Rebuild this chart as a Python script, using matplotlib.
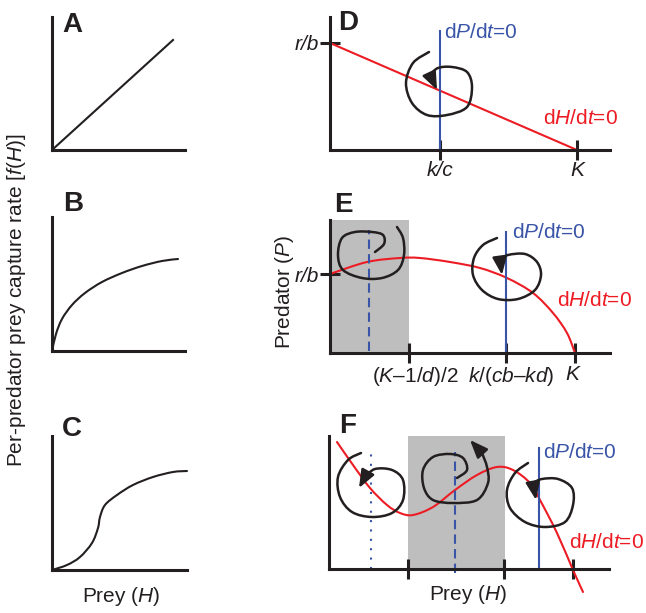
import matplotlib.pyplot as plt
from matplotlib.path import Path
from matplotlib.patches import PathPatch, Rectangle

plt.rcParams.update({
    'font.family': 'Liberation Sans',
    'mathtext.fontset': 'custom',
    'mathtext.rm': 'Liberation Sans',
    'mathtext.it': 'Liberation Sans:italic',
    'mathtext.bf': 'Liberation Sans:bold',
})

W, H = 646, 613
BLACK = '#231f20'
RED = '#ed1c24'
BLUE = '#3a55a8'
GREY = '#bebebe'
FS = 15

# schematic values, in panel units (1 unit ~ 1 px from each panel origin)
a_x = [0, 121]
a_y = [0, 110]
b_x = [0, 4, 10, 20, 33, 50, 70, 90, 110, 126]
b_y = [0, 17, 32, 46, 58, 69, 78, 85, 90, 92]
c_x = [0, 15, 28, 40, 46, 48, 53, 65, 81, 101, 121, 135]
c_y = [0, 5, 13, 27, 42, 53, 65, 75, 85, 93, 98, 99]

# D: linear isoclines
d_red_x = [0, 247]
d_red_y = [107, 0]
d_blue_x = 110
d_blue_top = 119
d_xticks = [110, 247]
d_xlabels = ['k/c', 'K']
d_ytick = 107
d_spiral_x = [99, 83, 76, 82, 97, 117, 137, 142, 137, 122, 108, 100, 107]
d_spiral_y = [98, 87, 67, 47, 35, 35, 43, 63, 78, 83, 82, 75, 60]

# E: humped prey isocline
e_red_x = [0, 37, 70, 90, 120, 150, 177, 203, 223, 237, 245]
e_red_y = [79, 91, 95, 95, 91, 85, 75, 60, 40, 20, 0]
e_shade = (1, 79, 137)
e_dash_x, e_dash_top = 39, 123
e_blue_x, e_blue_top = 176, 121
e_xticks = [79, 176, 245]
e_xlabels = ['($K$\u2013$1$/$d$)/2', '$k$/($cb$\u2013$kd$)', '$K$']
e_label_x = [85, 181, 243]
e_ytick = 79
e1_x = [45, 54, 53, 42, 25, 12, 8, 13, 32, 52, 68, 74, 73, 67, 55]
e1_y = [101, 109, 118, 121, 121, 115, 98, 83, 75, 75, 83, 98, 115, 126, 138]
e2_x = [167, 153, 144, 143, 152, 168, 188, 205, 211, 207, 195, 178, 170, 172]
e2_y = [115, 108, 95, 78, 63, 54, 54, 63, 78, 91, 99, 98, 93, 78]

# F: wavy prey isocline
f_red_x = [8, 24, 41, 58, 71, 84, 104, 126, 148, 168, 184, 201, 211, 228, 244, 254]
f_red_y = [127, 104, 81, 64, 56, 54, 62, 79, 94, 102, 99, 86, 69, 36, -1, -23]
f_shade = (79, 176, 136)
f_dot_x, f_dot_top = 42, 121
f_dash_x, f_dash_top = 126, 117
f_blue_x, f_blue_top = 210, 121
f_xticks = [79, 175, 244]
f1_x = [32, 19, 9, 11, 23, 43, 63, 74, 74, 63, 46, 36, 30]
f1_y = [116, 109, 92, 72, 57, 52, 56, 69, 89, 99, 100, 92, 81]
f2_x = [128, 138, 134, 121, 104, 94, 95, 104, 124, 148, 159, 158, 153, 141]
f2_y = [91, 99, 111, 115, 112, 99, 81, 69, 66, 69, 86, 102, 116, 129]
f3_x = [199, 186, 178, 181, 196, 216, 236, 244, 243, 229, 213, 204, 207]
f3_y = [106, 96, 79, 61, 47, 42, 47, 64, 81, 90, 90, 86, 69]

fig = plt.figure(figsize=(W / 100, H / 100), dpi=100)


def panel(x0, ybot, w, h):
    ax = fig.add_axes([x0 / W, 1 - ybot / H, w / W, h / H])
    ax.set_xlim(0, w)
    ax.set_ylim(0, h)
    ax.patch.set_visible(False)
    for s in ('top', 'right'):
        ax.spines[s].set_visible(False)
    for s in ('left', 'bottom'):
        ax.spines[s].set_linewidth(2.2)
        ax.spines[s].set_color(BLACK)
        ax.spines[s].set_capstyle('projecting')
    ax.set_xticks([])
    ax.set_yticks([])
    ax.tick_params(direction='inout', length=14, width=2.2, color=BLACK,
                   pad=1, labelsize=FS, labelcolor=BLACK)
    return ax


def smooth(ax, xs, ys, color=BLACK, lw=1.5, z=3):
    # bezier through the read points (catmull-rom handles)
    p = list(zip(xs, ys))
    p = [p[0]] + p + [p[-1]]
    verts = [p[1]]
    codes = [Path.MOVETO]
    for i in range(1, len(p) - 2):
        p0, p1, p2, p3 = p[i - 1], p[i], p[i + 1], p[i + 2]
        c1 = (p1[0] + (p2[0] - p0[0]) / 6, p1[1] + (p2[1] - p0[1]) / 6)
        c2 = (p2[0] - (p3[0] - p1[0]) / 6, p2[1] - (p3[1] - p1[1]) / 6)
        verts += [c1, c2, p2]
        codes += [Path.CURVE4] * 3
    ax.add_patch(PathPatch(Path(verts, codes), fill=False, edgecolor=color,
                           lw=lw, capstyle='round', joinstyle='round',
                           clip_on=False, zorder=z))


def spiral(ax, xs, ys):
    smooth(ax, xs[:-1], ys[:-1], lw=1.8)
    ax.annotate('', xy=(xs[-1], ys[-1]), xytext=(xs[-2], ys[-2]),
                arrowprops=dict(arrowstyle='-|>,head_length=0.6,head_width=0.24',
                                color=BLACK, lw=1.8, mutation_scale=18,
                                shrinkA=0, shrinkB=0),
                zorder=4)


# ---- functional responses ----
axA = panel(52, 150, 133, 133)
axA.plot(a_x, a_y, color=BLACK, lw=1.5)
axB = panel(52, 351, 133, 134)
smooth(axB, b_x, b_y)
axC = panel(52, 570, 135, 134)
smooth(axC, c_x, c_y)

# ---- D ----
axD = panel(330, 150, 280, 133)
axD.plot(d_red_x, d_red_y, color=RED, lw=1.5, clip_on=False)
axD.plot([d_blue_x, d_blue_x], [0, d_blue_top], color=BLUE, lw=1.5)
axD.set_xticks(d_xticks, d_xlabels, fontstyle='italic')
axD.set_yticks([d_ytick], ['r/b'], fontstyle='italic')
spiral(axD, d_spiral_x, d_spiral_y)
axD.text(114, 117, 'd$P$/d$t$=0', color=BLUE, fontsize=FS, va='center')
axD.text(213, 32, 'd$H$/d$t$=0', color=RED, fontsize=FS, va='center')

# ---- E ----
axE = panel(330, 353, 280, 133)
axE.add_patch(Rectangle((e_shade[0], 0), e_shade[1] - e_shade[0], e_shade[2],
                        color=GREY, lw=0, zorder=0))
smooth(axE, e_red_x, e_red_y, color=RED, z=2)
axE.plot([e_dash_x, e_dash_x], [2, e_dash_top], color=BLUE, lw=1.5,
         ls=(0, (4.5, 2.5)))
axE.plot([e_blue_x, e_blue_x], [0, e_blue_top], color=BLUE, lw=1.5)
axE.set_xticks(e_xticks, ['', '', ''])
for lx, lab in zip(e_label_x, e_xlabels):
    axE.text(lx, -12, lab, ha='center', va='top', fontsize=FS, color=BLACK)
axE.set_yticks([e_ytick], ['r/b'], fontstyle='italic')
spiral(axE, e1_x, e1_y)
spiral(axE, e2_x, e2_y)
axE.text(182, 120, 'd$P$/d$t$=0', color=BLUE, fontsize=FS, va='center')
axE.text(227, 53, 'd$H$/d$t$=0', color=RED, fontsize=FS, va='center')

# ---- F ----
axF = panel(329, 569, 280, 133)
axF.add_patch(Rectangle((f_shade[0], 0), f_shade[1] - f_shade[0], f_shade[2],
                        color=GREY, lw=0, zorder=0))
smooth(axF, f_red_x, f_red_y, color=RED, z=2)
axF.plot([f_dot_x, f_dot_x], [0, f_dot_top], color=BLUE, lw=1.5,
         ls=(0, (1, 3.5)))
axF.plot([f_dash_x, f_dash_x], [-4, f_dash_top], color=BLUE, lw=1.5,
         ls=(0, (4.5, 2.5)), clip_on=False)
axF.plot([f_blue_x, f_blue_x], [0, f_blue_top], color=BLUE, lw=1.5)
axF.set_xticks(f_xticks, ['', '', ''])
spiral(axF, f1_x, f1_y)
spiral(axF, f2_x, f2_y)
spiral(axF, f3_x, f3_y)
axF.text(214, 117, 'd$P$/d$t$=0', color=BLUE, fontsize=FS, va='center')
axF.text(240, 26, 'd$H$/d$t$=0', color=RED, fontsize=FS, va='center')

# ---- labels ----
for lab, x, y in [('A', 62, 32), ('B', 63, 211), ('C', 62, 436),
                  ('D', 338, 30), ('E', 334, 212), ('F', 339, 433)]:
    fig.text(x / W, 1 - y / H, lab, fontsize=20, fontweight='bold',
             color=BLACK, va='baseline')

fig.text(17 / W, 1 - 300 / H, 'Per-predator prey capture rate [$f$($H$)]',
         rotation=90, ha='center', va='center', fontsize=FS, color=BLACK)
fig.text(285 / W, 1 - 292 / H, 'Predator ($P$)', rotation=90, ha='center',
         va='center', fontsize=FS, color=BLACK)
fig.text(121 / W, 1 - 597 / H, 'Prey ($H$)', ha='center', va='center',
         fontsize=FS, color=BLACK)
fig.text(468 / W, 1 - 595 / H, 'Prey ($H$)', ha='center', va='center',
         fontsize=FS, color=BLACK)

fig.savefig('out.png', dpi=100)
